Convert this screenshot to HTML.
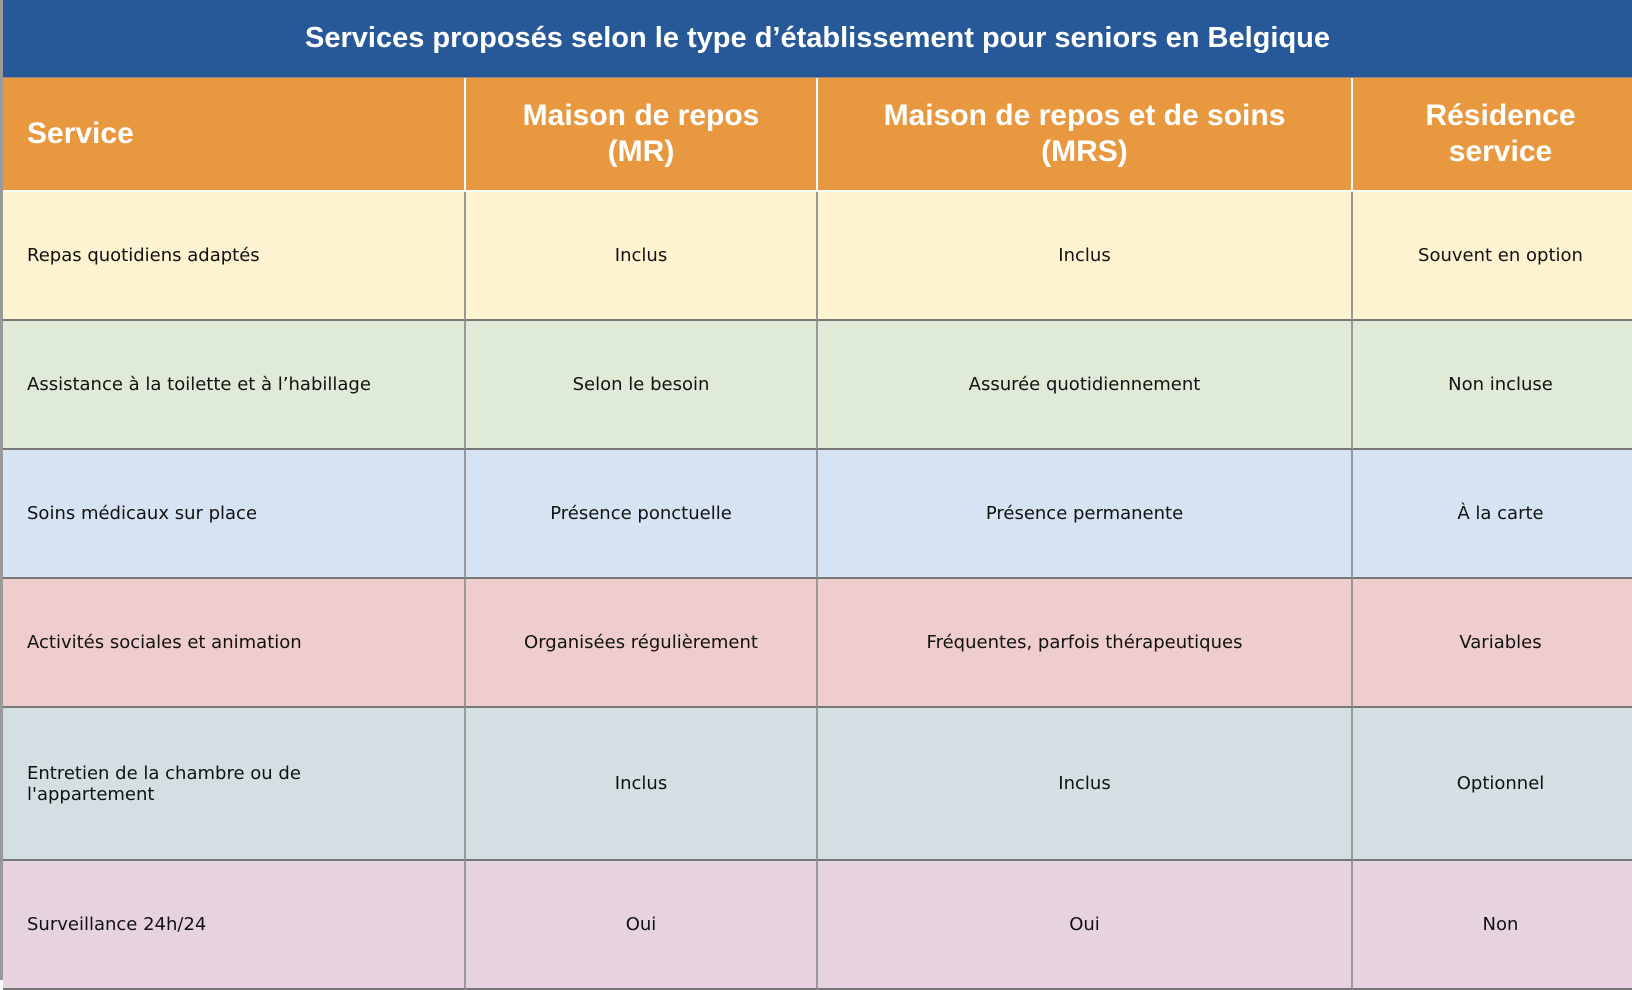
<!DOCTYPE html>
<html><head><meta charset="utf-8"><style>
body{margin:0;width:1632px;height:980px;overflow:hidden;background:#fff;position:relative;font-family:"DejaVu Sans","Liberation Sans",sans-serif}
.c{position:absolute;box-sizing:border-box;display:flex;align-items:center;justify-content:center;text-align:center;font-size:18px;color:#111;border-right:2px solid #999;border-bottom:2px solid #777}
.l{justify-content:flex-start;text-align:left;padding-left:24px}
.h{background:#E8993F;color:#fff;font-family:"Liberation Sans",Arial,sans-serif;font-weight:bold;font-size:30px;line-height:36px;border-right:2px solid #fff;border-bottom:2px solid #fff}
#title{position:absolute;left:3px;top:0;width:1629px;height:77px;background:#275998;color:#fff;font:bold 29px "Liberation Sans",Arial,sans-serif;display:flex;align-items:center;justify-content:center;border-bottom:1px solid #888}
#lb{position:absolute;left:0;top:0;width:3px;height:980px;background:#999}
</style></head><body>
<div id="lb"></div>
<div id="title">Services proposés selon le type d’établissement pour seniors en Belgique</div>
<div id="t"></div>
<script>
const colX=[3,466,818,1353,1650];
const rowY=[78,192,321,450,579,708,861,990];
const headers=["Service","Maison de repos<br>(MR)","Maison de repos et de soins<br>(MRS)","Résidence<br>service"];
const colors=["#FDF3D0","#DFEBD7","#D5E3F2","#EFCDCC","#D4DFE4","#E6D3DF"];
const rows=[
["Repas quotidiens adaptés","Inclus","Inclus","Souvent en option"],
["Assistance à la toilette et à l’habillage","Selon le besoin","Assurée quotidiennement","Non incluse"],
["Soins médicaux sur place","Présence ponctuelle","Présence permanente","À la carte"],
["Activités sociales et animation","Organisées régulièrement","Fréquentes, parfois thérapeutiques","Variables"],
["Entretien de la chambre ou de<br>l'appartement","Inclus","Inclus","Optionnel"],
["Surveillance 24h/24","Oui","Oui","Non"]];
const t=document.getElementById('t');
function cell(html,r,c,cls,bg){
 const d=document.createElement('div');
 d.className='c '+cls;
 d.style.left=colX[c]+'px';d.style.top=rowY[r]+'px';
 d.style.width=(colX[c+1]-colX[c])+'px';d.style.height=(rowY[r+1]-rowY[r])+'px';
 if(bg)d.style.background=bg;
 d.innerHTML=html;
 return d;
}
headers.forEach((h,c)=>{
 const d=cell(h,0,c,'h'+(c==0?' l':''));
 
 
 t.appendChild(d);
});
rows.forEach((row,r)=>{
 row.forEach((v,c)=>{
  const d=cell(v,r+1,c,c==0?'l':'',colors[r]);
  
  
  t.appendChild(d);
 });
});
</script>
</body></html>
